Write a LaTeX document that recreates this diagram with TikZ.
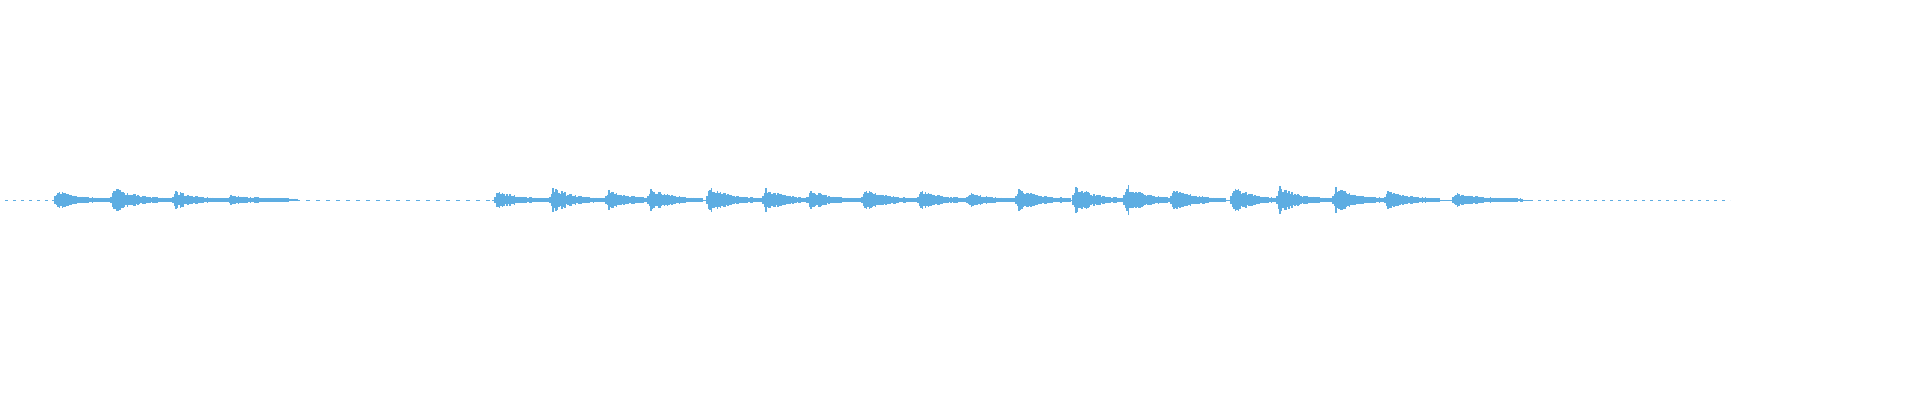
\documentclass[tikz,border=0pt]{standalone}
\definecolor{WaveBlue}{RGB}{93,173,226}
% one decaying burst: start, peak amplitude, length
\newcommand{\wburst}[3]{%
  \foreach \t in {0,1.5,...,#3}{%
    \pgfmathsetmacro{\h}{#2*min(1,(\t+1)/4)*exp(-\t/(#3*0.35))*(0.55+0.45*rnd)+1.2}
    \draw[wave] (#1+\t,200-\h) -- (#1+\t,200+\h);
  }}
\begin{document}
\pgfmathsetseed{7}
\begin{tikzpicture}[x=1pt,y=-1pt,wave/.style={WaveBlue,line width=1.6pt}]
		\useasboundingbox (0,0) rectangle (1920,400);

		% baseline
		\draw[WaveBlue, line width=1pt] (0,200) -- (1530,200);
		\draw[WaveBlue, line width=1pt, dash pattern=on 3pt off 5pt] (1530,200) -- (1730,200);
		\draw[white, line width=1.2pt, dash pattern=on 6pt off 4pt] (300,200) -- (492,200);
		\draw[white, line width=1.2pt, dash pattern=on 5pt off 3pt] (0,200) -- (52,200);

		% first phrase
		\wburst{55}{11}{55}
		\wburst{111}{14}{60}
		\wburst{173}{10}{55}
		\wburst{228}{5}{70}

		% second phrase
		\foreach \s/\a in {495/10, 550/14, 606/11, 648/13, 707/15, 763/13, 808/11, 862/13,
		                   918/11, 967/8, 1016/14, 1073/15, 1124/17, 1171/13, 1231/14,
		                   1277/15, 1333/15, 1385/11}
		  {\wburst{\s}{\a}{55}}
		\wburst{1453}{7}{70}
	\end{tikzpicture}
\end{document}
